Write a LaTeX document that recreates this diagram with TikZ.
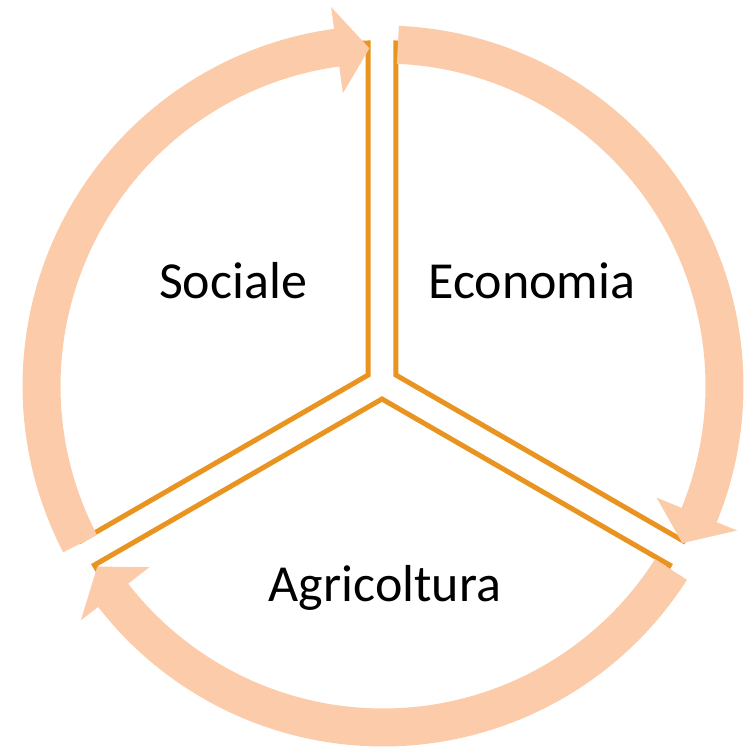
\documentclass[tikz,border=0pt]{standalone}
\usepackage{fontspec}
\setmainfont{Carlito}
\definecolor{bandc}{RGB}{252,204,170}
\definecolor{linec}{RGB}{233,148,32}
\begin{document}
\begin{tikzpicture}[x=1pt,y=1pt,
  band/.style={draw=bandc,line width=38pt},
  arrowhead/.style={fill=bandc},
  sector/.style={draw=linec,line width=5pt},
  lbl/.style={font=\fontsize{52}{60}\selectfont,anchor=base,inner sep=0pt}]
\useasboundingbox (-383,-361) rectangle (363,386);
% sectors
\foreach \b in {150,30,270} {
  \draw[sector,shift={(-1,3)}] (\b:16) -- ++(\b+60:332)
     arc[start angle=\b+60, end angle=\b-60, radius=332] -- cycle;
}
% circular arrows
\foreach \k in {0,1,2} {
  \pgfmathsetmacro\ta{207.5-120*\k}
  \pgfmathsetmacro\tb{97.8-120*\k}
  \pgfmathsetmacro\tc{92.3-120*\k}
  \pgfmathsetmacro\te{\tb-0.3}
  \draw[band] (\ta:341.5) arc[start angle=\ta, end angle=\te, radius=341.5];
  \fill[arrowhead] (\tb:295.5) -- (\tb:382.5) -- (\tc:338) -- cycle;
}
\node[lbl] (soc) at (-150,88) {Sociale};
\node[lbl] (eco) at (149,88) {Economia};
\node[lbl] (agr) at (2,-215) {Agricoltura};
\end{tikzpicture}
\end{document}
